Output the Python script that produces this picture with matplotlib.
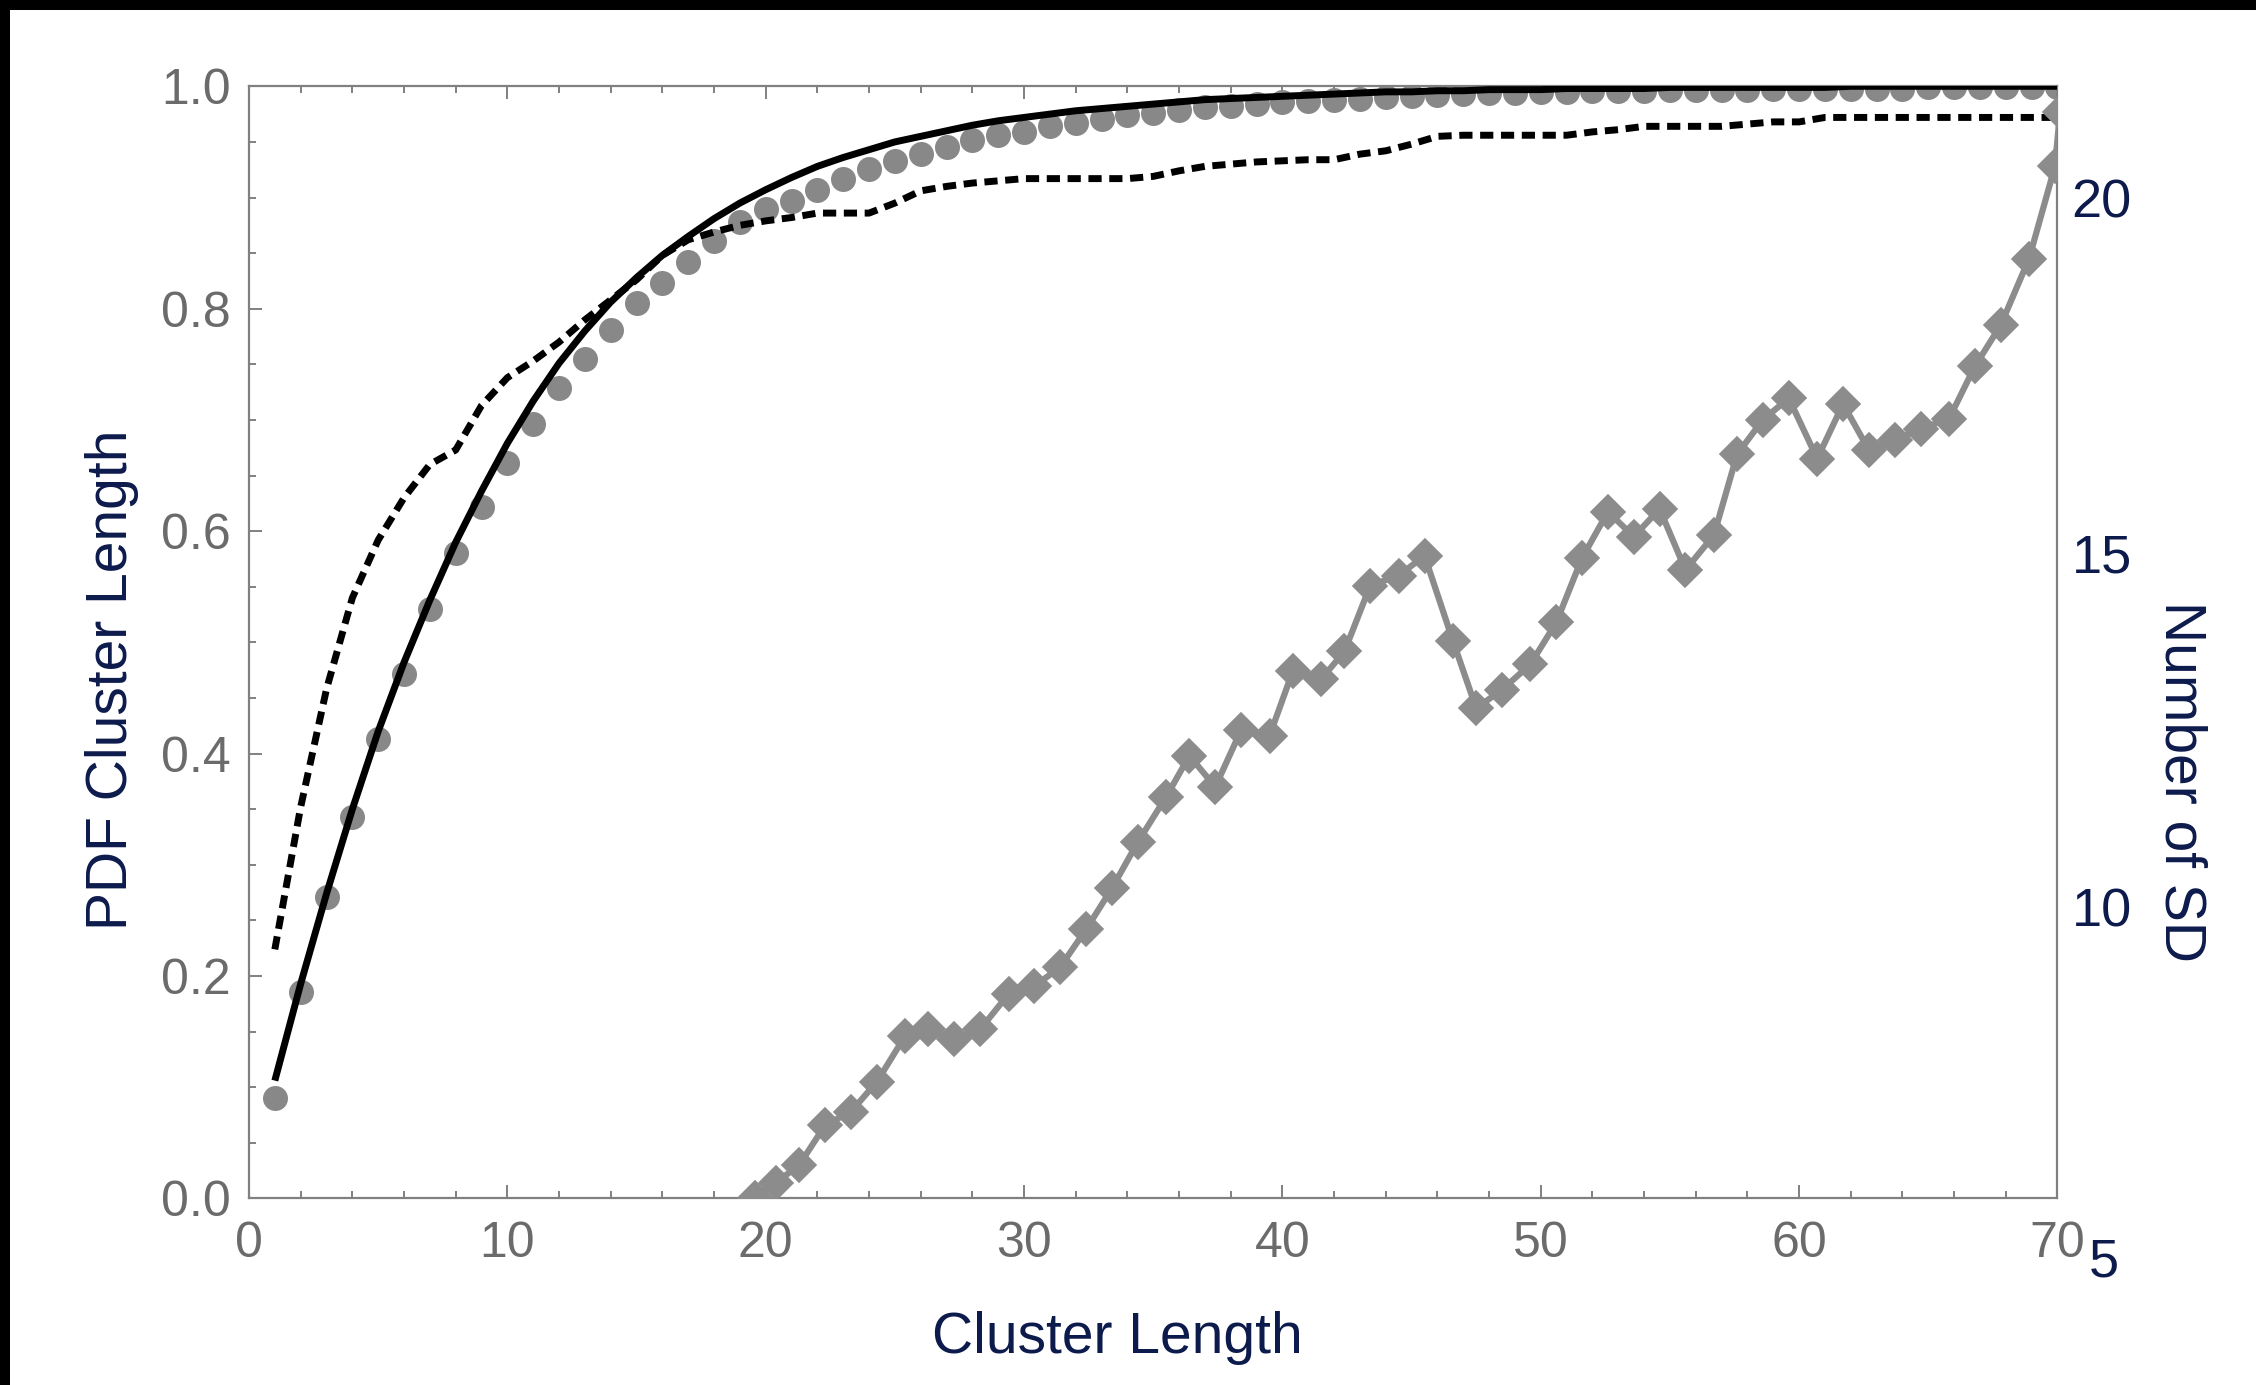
import matplotlib
matplotlib.use("Agg")
import matplotlib.pyplot as plt
import matplotlib.transforms as mtransforms
from matplotlib.patches import Rectangle
from matplotlib.ticker import MultipleLocator, FormatStrFormatter

plt.rcParams['font.family'] = ['Liberation Sans', 'DejaVu Sans']

# ---------------------------------------------------------------- data
cluster_len = list(range(1, 71))

# observed cumulative distribution of cluster lengths (grey dots)
pdf_dots = [0.090, 0.186, 0.271, 0.343, 0.413, 0.472, 0.530, 0.580, 0.622, 0.661,
            0.696, 0.729, 0.755, 0.781, 0.805, 0.823, 0.842, 0.861, 0.878, 0.890,
            0.897, 0.907, 0.917, 0.926, 0.933, 0.939, 0.945, 0.952, 0.956, 0.959,
            0.964, 0.967, 0.971, 0.974, 0.976, 0.979, 0.981, 0.982, 0.984, 0.986,
            0.987, 0.988, 0.989, 0.990, 0.991, 0.992, 0.993, 0.994, 0.994, 0.995,
            0.995, 0.996, 0.996, 0.996, 0.997, 0.997, 0.997, 0.997, 0.998, 0.998,
            0.998, 0.998, 0.998, 0.998, 0.999, 0.999, 0.999, 0.999, 0.999, 0.999]

# fitted curve (solid black)
fit_curve = [0.106, 0.193, 0.274, 0.350, 0.420, 0.482, 0.538, 0.590, 0.636, 0.679,
             0.717, 0.751, 0.780, 0.806, 0.828, 0.848, 0.865, 0.881, 0.895, 0.907,
             0.918, 0.928, 0.936, 0.943, 0.950, 0.955, 0.960, 0.965, 0.969, 0.972,
             0.975, 0.978, 0.980, 0.982, 0.984, 0.986, 0.988, 0.989, 0.990, 0.991,
             0.992, 0.993, 0.994, 0.995, 0.995, 0.996, 0.996, 0.997, 0.997, 0.997,
             0.998, 0.998, 0.998, 0.998, 0.999, 0.999, 0.999, 0.999, 0.999, 0.999,
             0.999, 1.000, 1.000, 1.000, 1.000, 1.000, 1.000, 1.000, 1.000, 1.000]

# empirical curve (dashed black)
empirical = [0.224, 0.352, 0.458, 0.540, 0.592, 0.630, 0.660, 0.673, 0.713, 0.738,
             0.753, 0.770, 0.790, 0.808, 0.826, 0.848, 0.862, 0.869, 0.875, 0.879,
             0.882, 0.886, 0.886, 0.886, 0.895, 0.906, 0.910, 0.913, 0.915, 0.917,
             0.917, 0.917, 0.917, 0.917, 0.919, 0.924, 0.928, 0.930, 0.932, 0.933,
             0.934, 0.934, 0.939, 0.942, 0.948, 0.955, 0.956, 0.956, 0.956, 0.956,
             0.956, 0.959, 0.961, 0.964, 0.964, 0.964, 0.964, 0.966, 0.968, 0.968,
             0.972, 0.972, 0.972, 0.972, 0.972, 0.972, 0.972, 0.972, 0.972, 0.972]

# number of standard deviations (grey diamonds, right axis)
sd_len = [19.6, 20.4, 21.3, 22.3, 23.3, 24.3, 25.4, 26.3, 27.3, 28.3,
          29.4, 30.4, 31.4, 32.4, 33.4, 34.4, 35.5, 36.4, 37.4, 38.4,
          39.5, 40.4, 41.5, 42.4, 43.4, 44.5, 45.5, 46.6, 47.5, 48.5,
          49.6, 50.6, 51.6, 52.6, 53.6, 54.6, 55.6, 56.7, 57.6, 58.6,
          59.6, 60.7, 61.7, 62.7, 63.7, 64.7, 65.8, 66.8, 67.8, 68.9,
          69.9, 70.1]
sd_values = [5.90, 6.12, 6.37, 6.93, 7.12, 7.54, 8.19, 8.28, 8.14, 8.28,
             8.78, 8.89, 9.16, 9.69, 10.27, 10.92, 11.56, 12.14, 11.70, 12.50,
             12.42, 13.33, 13.22, 13.61, 14.54, 14.68, 14.96, 13.76, 12.81, 13.07,
             13.43, 14.02, 14.93, 15.58, 15.23, 15.62, 14.76, 15.25, 16.39, 16.88,
             17.18, 16.33, 17.10, 16.45, 16.59, 16.75, 16.89, 17.63, 18.21, 19.15,
             20.45, 21.22]

sd_ticks = [10, 15, 20]
sd_low_label = 5

# ---------------------------------------------------------------- style
NAVY = '#0c1a4c'
AXIS_GREY = '#808080'
TICK_TEXT = '#6b6b6b'
DOT_GREY = '#888888'
DIAMOND_GREY = '#8c8c8c'

fig = plt.figure(figsize=(22.56, 13.85), dpi=100)
fig.patch.set_facecolor('white')

# black frame strips along the top and left edges
fig.patches.append(Rectangle((0, 1 - 10 / 1385), 1, 10 / 1385, transform=fig.transFigure,
                             facecolor='black', edgecolor='none', zorder=10))
fig.patches.append(Rectangle((0, 0), 10 / 2256, 1, transform=fig.transFigure,
                             facecolor='black', edgecolor='none', zorder=10))

ax = fig.add_axes([0.11037, 0.13466, 0.80164, 0.80303])

ax.plot(cluster_len, pdf_dots, linestyle='none', marker='o', ms=18, mew=0,
        color=DOT_GREY, zorder=2)
ax.plot(cluster_len, fit_curve, color='black', lw=5.0, zorder=3,
        solid_capstyle='butt')
ax.plot(cluster_len, empirical, color='black', lw=5.0, linestyle=(0, (1.9, 1.1)),
        zorder=3)

ax.set_xlim(0, 70)
ax.set_ylim(0, 1)
ax.xaxis.set_major_locator(MultipleLocator(10))
ax.xaxis.set_minor_locator(MultipleLocator(2))
ax.yaxis.set_major_locator(MultipleLocator(0.2))
ax.yaxis.set_minor_locator(MultipleLocator(0.05))
ax.yaxis.set_major_formatter(FormatStrFormatter('%.1f'))

ax.tick_params(which='both', direction='in', top=True, right=True,
               color=AXIS_GREY, width=1.4, labelsize=36, labelcolor=TICK_TEXT)
ax.tick_params(which='major', length=9.5)
ax.tick_params(which='minor', length=5)
ax.tick_params(axis='x', pad=16)
ax.tick_params(axis='y', pad=13)
for s in ax.spines.values():
    s.set_color(AXIS_GREY)
    s.set_linewidth(1.6)

ax.set_xlabel('Cluster Length', fontsize=41, color=NAVY, va='baseline', ha='center')
ax.xaxis.set_label_coords(0.48, -0.1385)
ax.set_ylabel('PDF Cluster Length', fontsize=41, color=NAVY, va='baseline', ha='center')
ax.yaxis.set_label_coords(-0.0677, 0.466)

# right axis: number of SD
ax2 = ax.twinx()
ax2.set_ylim(5.896, 21.58)
ax2.plot(sd_len, sd_values, color=DIAMOND_GREY, lw=4.5, marker='D', ms=17.5,
         mec=DIAMOND_GREY, mfc=DIAMOND_GREY, mew=1.2, zorder=3)
for s in ax2.spines.values():
    s.set_visible(False)
ax2.set_yticks(sd_ticks)
ax2.set_yticklabels([str(t) for t in sd_ticks])
ax2.tick_params(axis='y', length=0, pad=10, labelsize=39, labelcolor=NAVY)
ax2.text(1.0174, sd_low_label, str(sd_low_label),
         transform=mtransforms.blended_transform_factory(ax2.transAxes, ax2.transData),
         ha='left', va='center', fontsize=39, color=NAVY, clip_on=False)
ax2.set_ylabel('Number of SD', fontsize=41, color=NAVY, rotation=270,
               va='baseline', ha='center')
ax2.yaxis.set_label_coords(1.0597, 0.3745)

fig.savefig('out.png', dpi=100, facecolor='white')
